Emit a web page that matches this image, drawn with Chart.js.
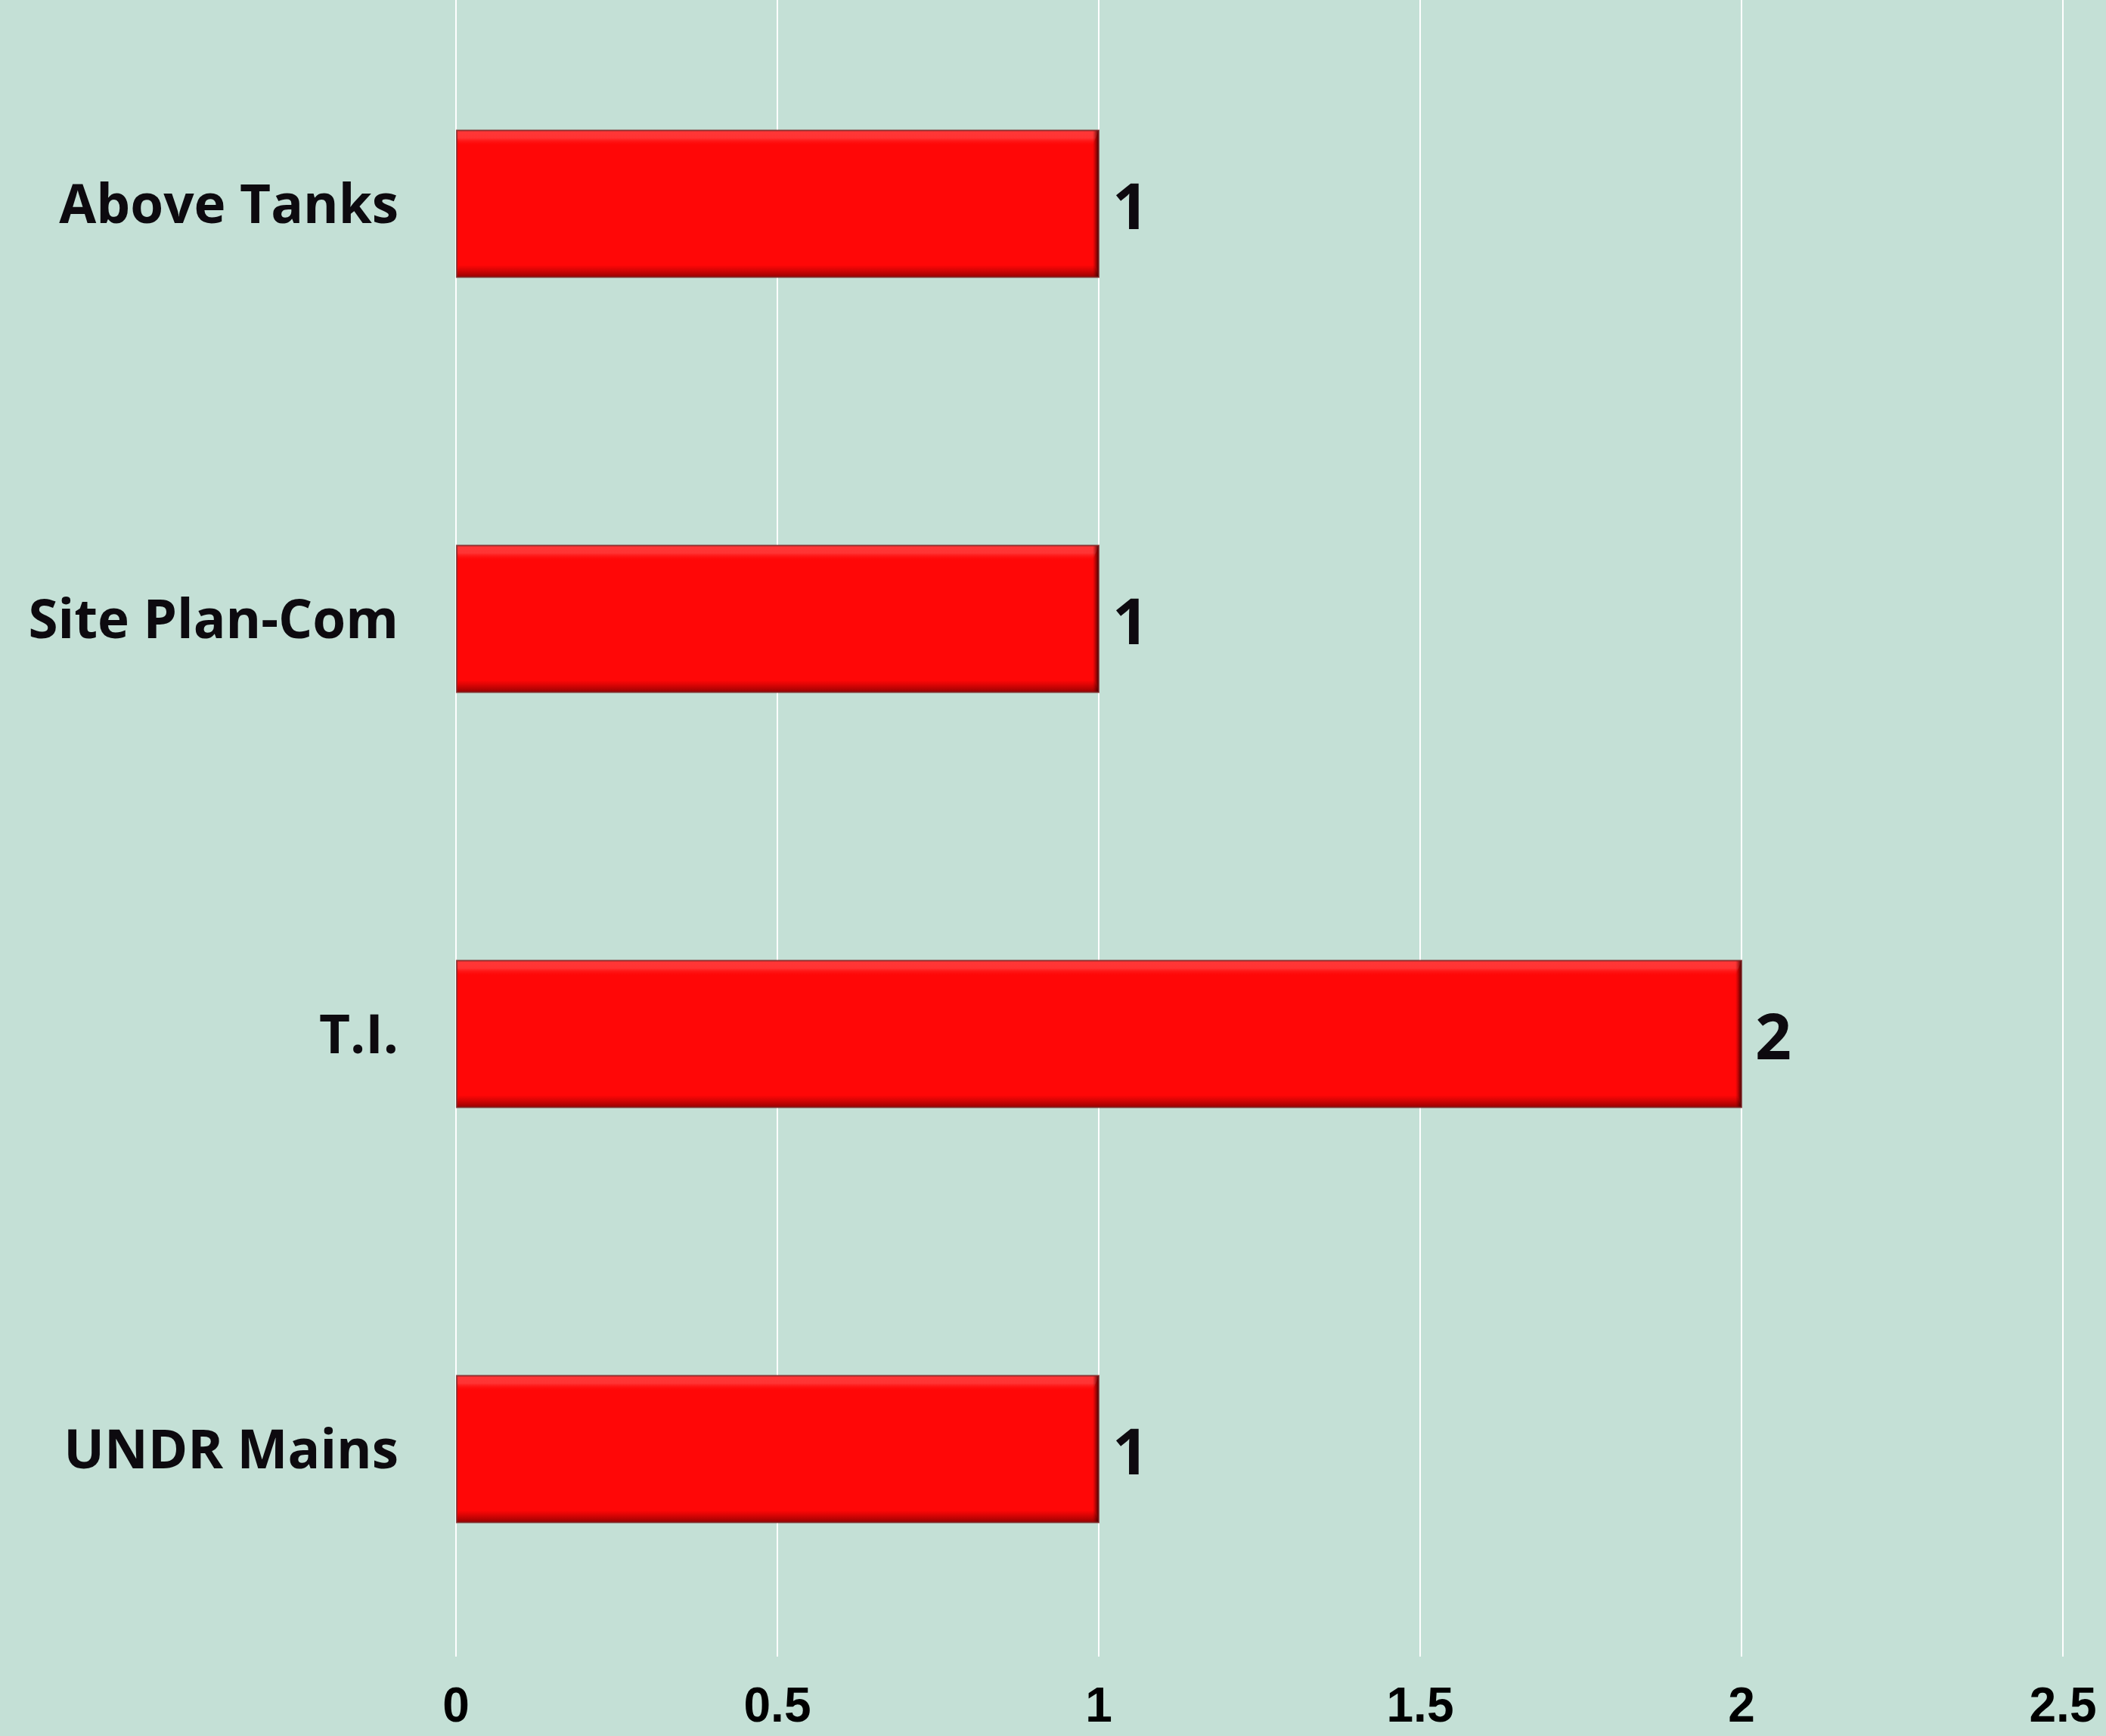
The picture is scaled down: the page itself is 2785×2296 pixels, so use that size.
<!DOCTYPE html>
<html>
<head>
<meta charset="utf-8">
<script src="https://cdn.jsdelivr.net/npm/chart.js@4.4.1/dist/chart.umd.min.js"></script>
<style>
  html, body { margin: 0; padding: 0; background: #C4E0D6; overflow: hidden; }
  #wrap { position: absolute; left: 0; top: -5px; width: 2785px; height: 2301px; }
</style>
</head>
<body>
<div id="wrap"><canvas id="c" width="2785" height="2301"></canvas></div>
<script>
const categories = ["Above Tanks", "Site Plan-Com", "T.I.", "UNDR Mains"];
const values = [1, 1, 2, 1];
const xTicks = [0, 0.5, 1, 1.5, 2, 2.5];

const bevelPlugin = {
  id: 'bevel',
  afterDatasetsDraw(chart) {
    const ctx = chart.ctx;
    const meta = chart.getDatasetMeta(0);
    meta.data.forEach((bar, i) => {
      const p = bar.getProps(['x', 'y', 'base', 'height'], true);
      const left = p.base, right = p.x;
      const top = p.y - p.height / 2, bottom = p.y + p.height / 2;
      ctx.save();
      let g = ctx.createLinearGradient(0, top, 0, top + 20);
      g.addColorStop(0, 'rgba(255,60,60,0.9)');
      g.addColorStop(0.5, 'rgba(255,70,70,0.7)');
      g.addColorStop(1, 'rgba(255,10,10,0)');
      ctx.fillStyle = g;
      ctx.beginPath();
      ctx.moveTo(left, top); ctx.lineTo(right, top); ctx.lineTo(right - 8, top + 20); ctx.lineTo(left + 2, top + 20); ctx.closePath();
      ctx.fill();
      g = ctx.createLinearGradient(0, bottom - 16, 0, bottom);
      g.addColorStop(0, 'rgba(160,0,0,0)');
      g.addColorStop(1, 'rgba(140,0,0,0.9)');
      ctx.fillStyle = g;
      ctx.beginPath();
      ctx.moveTo(left, bottom); ctx.lineTo(right, bottom); ctx.lineTo(right - 6, bottom - 16); ctx.lineTo(left + 2, bottom - 16); ctx.closePath();
      ctx.fill();
      g = ctx.createLinearGradient(right - 8, 0, right, 0);
      g.addColorStop(0, 'rgba(120,0,0,0)');
      g.addColorStop(1, 'rgba(40,0,0,0.9)');
      ctx.fillStyle = g;
      ctx.fillRect(right - 8, top, 8, bottom - top);
      ctx.strokeStyle = 'rgba(120,40,40,0.8)';
      ctx.lineWidth = 2;
      ctx.strokeRect(left, top, right - left, bottom - top);
      ctx.fillStyle = '#0d0a0f';
      ctx.font = 'bold 84px "Open Sans"';
      ctx.textAlign = 'left';
      ctx.textBaseline = 'middle';
      ctx.fillText(String(values[i]), right + 18, p.y + 10);
      ctx.restore();
    });
  }
};

new Chart(document.getElementById('c'), {
  type: 'bar',
  data: {
    labels: categories,
    datasets: [{
      data: values,
      backgroundColor: '#FF0707',
      borderWidth: 0,
      categoryPercentage: 0.3534,
      barPercentage: 1.0
    }]
  },
  options: {
    indexAxis: 'y',
    responsive: false,
    animation: false,
    devicePixelRatio: 1,
    layout: { padding: { left: 0, right: 57, top: 0, bottom: 0 } },
    plugins: { legend: { display: false }, tooltip: { enabled: false } },
    scales: {
      x: {
        min: 0, max: 2.5,
        afterBuildTicks(axis) { axis.ticks = xTicks.map(v => ({ value: v })); },
        afterFit(axis) {
          axis.height = 105;
          axis.paddingLeft = 0; axis.paddingRight = 0; axis.paddingTop = 0; axis.paddingBottom = 0;
        },
        grid: { color: '#FFFFFF', lineWidth: 2, drawTicks: false },
        border: { display: false },
        ticks: {
          color: '#000000',
          font: { family: 'Liberation Sans', weight: 'bold', size: 64 },
          padding: 30,
          maxRotation: 0,
          callback(value) { return String(value); }
        }
      },
      y: {
        afterFit(axis) {
          axis.width = 603;
          axis.paddingLeft = 0; axis.paddingRight = 0; axis.paddingTop = 0; axis.paddingBottom = 0;
        },
        grid: { display: false, drawTicks: false },
        border: { display: false },
        ticks: {
          color: '#0d0a0f',
          font: { family: 'Open Sans', weight: 'bold', size: 71 },
          padding: 76,
          labelOffset: 5
        }
      }
    }
  },
  plugins: [bevelPlugin]
});
</script>
</body>
</html>
